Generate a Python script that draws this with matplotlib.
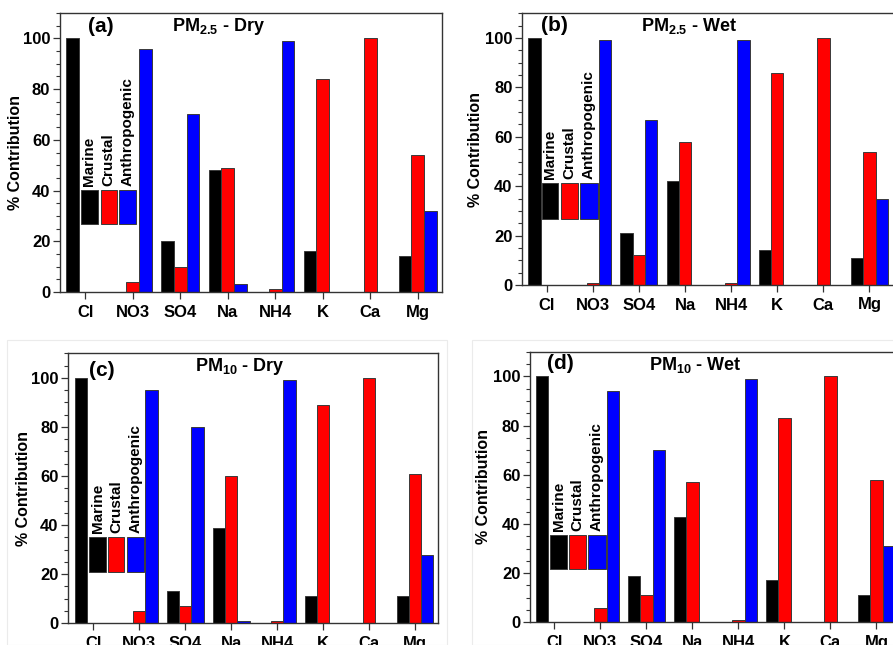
import matplotlib
matplotlib.use("Agg")
import matplotlib.pyplot as plt
from matplotlib.patches import Rectangle
from matplotlib.ticker import MultipleLocator
import numpy as np

plt.rcParams['font.family'] = ['Liberation Sans', 'DejaVu Sans']
plt.rcParams['font.weight'] = 'bold'
plt.rcParams['mathtext.fontset'] = 'custom'
plt.rcParams['mathtext.rm'] = 'Liberation Sans:bold'
plt.rcParams['mathtext.bf'] = 'Liberation Sans:bold'
plt.rcParams['mathtext.default'] = 'bf'

categories = ["Cl", "NO3", "SO4", "Na", "NH4", "K", "Ca", "Mg"]
sources = ["Marine", "Crustal", "Anthropogenic"]
colors = ["#000000", "#ff0000", "#0000ff"]

pm25_dry_marine = [100, 0, 20, 48, 0, 16, 0, 14]
pm25_dry_crustal = [0, 4, 10, 49, 1, 84, 100, 54]
pm25_dry_anthro = [0, 96, 70, 3, 99, 0, 0, 32]

pm25_wet_marine = [100, 0, 21, 42, 0, 14, 0, 11]
pm25_wet_crustal = [0, 1, 12, 58, 1, 86, 100, 54]
pm25_wet_anthro = [0, 99, 67, 0, 99, 0, 0, 35]

pm10_dry_marine = [100, 0, 13, 39, 0, 11, 0, 11]
pm10_dry_crustal = [0, 5, 7, 60, 1, 89, 100, 61]
pm10_dry_anthro = [0, 95, 80, 1, 99, 0, 0, 28]

pm10_wet_marine = [100, 0, 19, 43, 0, 17, 0, 11]
pm10_wet_crustal = [0, 6, 11, 57, 1, 83, 100, 58]
pm10_wet_anthro = [0, 94, 70, 0, 99, 0, 0, 31]

panel_labels = ["(a)", "(b)", "(c)", "(d)"]
panel_titles = [r"PM$_{2.5}$ - Dry", r"PM$_{2.5}$ - Wet", r"PM$_{10}$ - Dry", r"PM$_{10}$ - Wet"]
panel_data = [
    (pm25_dry_marine, pm25_dry_crustal, pm25_dry_anthro),
    (pm25_wet_marine, pm25_wet_crustal, pm25_wet_anthro),
    (pm10_dry_marine, pm10_dry_crustal, pm10_dry_anthro),
    (pm10_wet_marine, pm10_wet_crustal, pm10_wet_anthro),
]

W, H = 893, 645
fig = plt.figure(figsize=(W / 100, H / 100), dpi=100)

# faint frames of the lower sub-images
fig.patches.append(Rectangle((7 / W, 0), 440 / W, (H - 340) / H, transform=fig.transFigure,
                             fill=False, edgecolor="#ebebeb", lw=0.8))
fig.patches.append(Rectangle((472 / W, 0), 430 / W, (H - 340) / H, transform=fig.transFigure,
                             fill=False, edgecolor="#ebebeb", lw=0.8))

# axes boxes in pixels: left, top, right, bottom
boxes = [
    (60, 13, 442, 292),
    (522.3, 13.3, 893.9, 285),
    (68.3, 353.3, 438.3, 623.3),
    (530, 351.7, 900.8, 622.3),
]
xlims = [(-0.53, 7.51), (-0.53, 7.53), (-0.544, 7.507), (-0.53, 7.53)]
legend_y = [(0.244, 0.366), (0.243, 0.374), (0.191, 0.321), (0.196, 0.322)]
legend_x = [
    [(0.055, 0.099), (0.1065, 0.148), (0.155, 0.199)],
    [(0.0525, 0.097), (0.104, 0.150), (0.156, 0.203)],
    [(0.057, 0.101), (0.108, 0.151), (0.159, 0.205)],
    [(0.054, 0.100), (0.106, 0.151), (0.157, 0.205)],
]
label_pos = [(0.073, 0.95), (0.05, 0.955), (0.056, 0.938), (0.045, 0.957)]
title_pos = [(0.416, 0.95), (0.449, 0.955), (0.463, 0.95), (0.445, 0.952)]
ylabel_x = [23, 483, 31.5, 491.5]

bw = 0.267
offsets = [-bw, 0.0, bw]
x = np.arange(len(categories))

for i in range(4):
    l, t, r, b = boxes[i]
    ax = fig.add_axes([l / W, (H - b) / H, (r - l) / W, (b - t) / H])
    for k in range(3):
        vals = np.array(panel_data[i][k], dtype=float)
        mask = vals > 0
        ax.bar(x[mask] + offsets[k], vals[mask], width=bw, color=colors[k],
               edgecolor="#3a3a3a", linewidth=0.7, zorder=2)
    ax.set_xlim(*xlims[i])
    ax.set_ylim(0, 110)
    ax.set_xticks(x)
    ax.set_xticklabels(categories, fontsize=12, fontweight='bold')
    ax.yaxis.set_major_locator(MultipleLocator(20))
    ax.yaxis.set_minor_locator(MultipleLocator(5))
    ax.set_yticks([0, 20, 40, 60, 80, 100])
    ax.tick_params(axis='y', which='major', direction='out', length=5, width=0.9,
                   labelsize=12, colors='#333333', labelcolor='black', pad=2)
    ax.tick_params(axis='y', which='minor', direction='out', length=3, width=0.8, colors='#333333')
    ax.tick_params(axis='x', which='major', direction='out', length=5, width=0.9,
                   labelsize=12, colors='#333333', labelcolor='black', pad=4)
    for lab in ax.get_yticklabels() + ax.get_xticklabels():
        lab.set_fontweight('bold')
    for sp in ax.spines.values():
        sp.set_color('#333333')
        sp.set_linewidth(1.0)
    ax.set_ylabel("% Contribution", fontsize=11.5, fontweight='bold')
    ax.yaxis.set_label_coords((ylabel_x[i] - l) / (r - l), 0.5)

    ax.text(label_pos[i][0], label_pos[i][1], panel_labels[i], transform=ax.transAxes,
            fontsize=15, fontweight='bold', ha='left', va='center')
    ax.text(title_pos[i][0], title_pos[i][1], panel_titles[i], transform=ax.transAxes,
            fontsize=13, fontweight='bold', ha='center', va='center')

    y0, y1 = legend_y[i]
    for k in range(3):
        x0, x1 = legend_x[i][k]
        ax.add_patch(Rectangle((x0, y0), x1 - x0, y1 - y0, transform=ax.transAxes,
                               facecolor=colors[k], edgecolor="#3a3a3a", linewidth=0.7,
                               zorder=5, clip_on=False))
        ax.text((x0 + x1) / 2, y1 + 0.015, sources[k], transform=ax.transAxes,
                rotation=90, ha='center', va='bottom', fontsize=11, fontweight='bold', zorder=6)

fig.savefig("out.png", dpi=100)
